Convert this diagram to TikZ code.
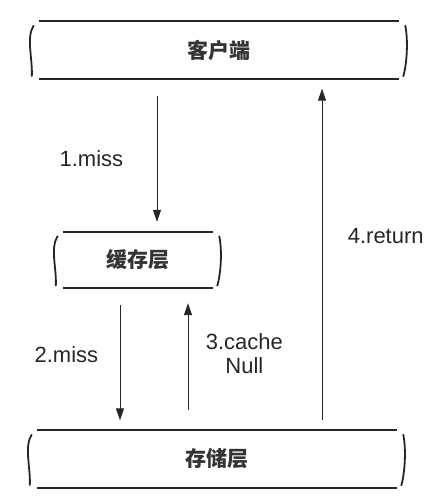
\documentclass[tikz,border=0pt]{standalone}
\usepackage{fontspec}
\setmainfont{Liberation Sans}
\newfontfamily\cjk{Noto Sans CJK SC}
\usetikzlibrary{arrows.meta}

\tikzset{
  layer/.style={inner sep=0pt,font=\cjk\bfseries\fontsize{21}{24}\selectfont,text=black!80},
  flow/.style={line width=1pt,draw=black!85,-{Triangle[length=12pt,width=8pt]}},
  lbl/.style={font=\fontsize{22}{24}\selectfont,text=black!85,align=center},
  rail/.style={line width=2.3pt,black!85},
  side/.style={line width=1.8pt,black!85}
}

% top and bottom rails plus the wavy ends of a layer box
\newcommand{\layerframe}[1]{%
  \draw[rail] (#1.north west) -- (#1.north east);
  \draw[rail] (#1.south west) -- (#1.south east);
  \draw[side] ([xshift=-5pt,yshift=-4pt]#1.north west) .. controls +(-8,12) and +(1,-18) .. ([xshift=-7pt,yshift=2pt]#1.south west);
  \draw[side] ([xshift=6pt,yshift=-4pt]#1.north east) .. controls +(3,14) and +(4,-14) .. ([xshift=4pt,yshift=2pt]#1.south east);
}

\begin{document}
\begin{tikzpicture}[x=1pt,y=-1pt]
  \useasboundingbox (0,0) rectangle (432,499);

  % the three layers
  \node[layer,minimum width=360pt,minimum height=57pt] (client) at (219,50) {客户端};
  \node[layer,minimum width=150pt,minimum height=56pt] (cache) at (138,260) {缓存层};
  \node[layer,minimum width=360pt,minimum height=57pt] (store) at (217,459) {存储层};

  \layerframe{client}
  \layerframe{cache}
  \layerframe{store}

  % requests and answers
  \draw[flow] ([xshift=-62pt,yshift=-17pt]client.south) -- node[lbl,left=30pt] (m1) {1.miss} ([xshift=19pt,yshift=10pt]cache.north);
  \draw[flow] ([xshift=-18pt,yshift=-17pt]cache.south) -- node[lbl,left=18pt,yshift=8pt] (m2) {2.miss} ([xshift=-97pt,yshift=10pt]store.north);
  \draw[flow] ([xshift=-29pt,yshift=20pt]store.north) -- node[lbl,right=14pt,yshift=3pt] (m3) {3.cache\\Null} ([xshift=50pt,yshift=-15pt]cache.south);
  \draw[flow] ([xshift=105pt,yshift=10pt]store.north) -- node[lbl,right=22pt,yshift=18pt] (m4) {4.return} ([xshift=103pt,yshift=-10pt]client.south);
\end{tikzpicture}
\end{document}
